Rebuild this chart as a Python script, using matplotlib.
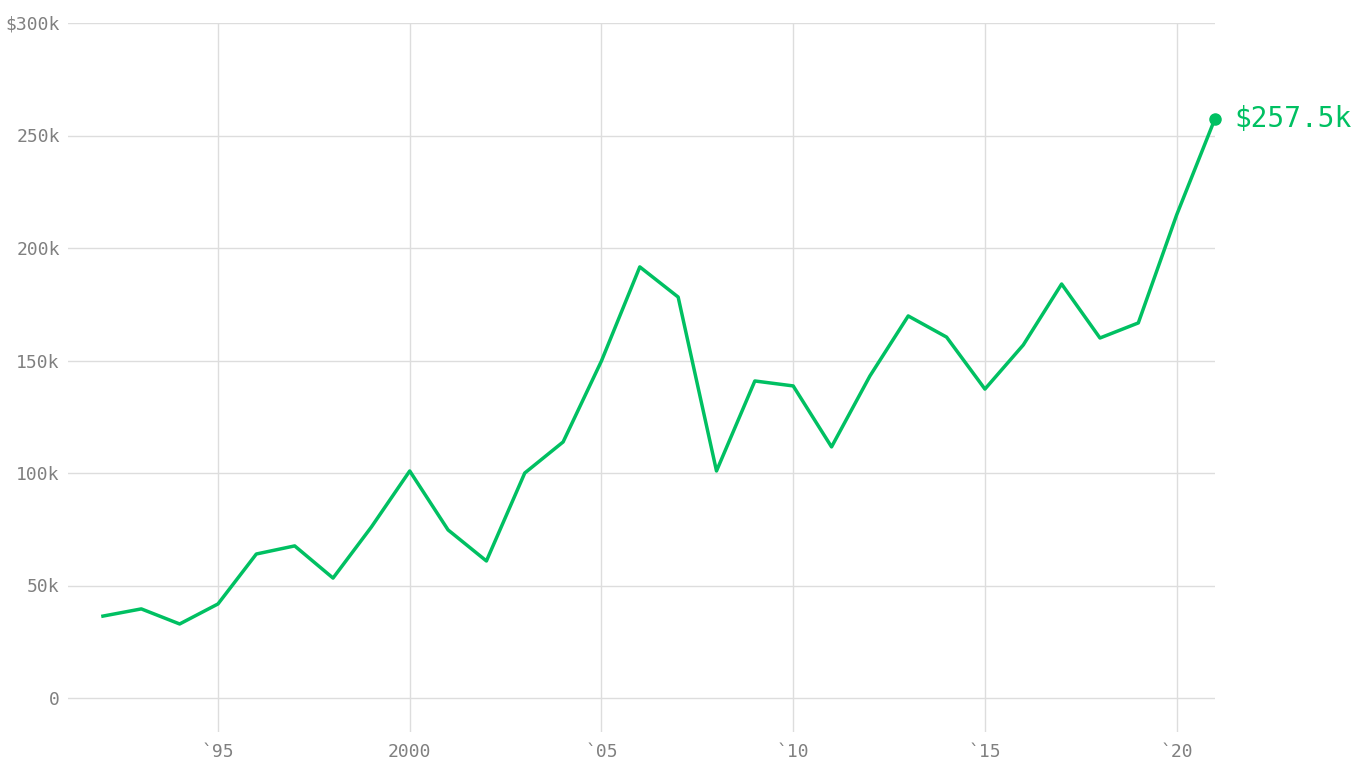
import matplotlib
matplotlib.use("Agg")
import matplotlib.pyplot as plt

years = list(range(1992, 2022))
values = [36.4, 39.6, 32.9, 41.8, 64, 67.6, 53.3, 76, 100.9, 74.7, 60.9, 100, 113.8, 149.8,
          191.6, 178.2, 100.9, 140.9, 138.7, 111.6, 143.1, 169.8, 160.4, 137.3, 156.9, 184,
          160, 166.7, 214.7, 257.5]
xticks = [1995, 2000, 2005, 2010, 2015, 2020]
xlabels = ["`95", "2000", "`05", "`10", "`15", "`20"]
yticks = [0, 50, 100, 150, 200, 250, 300]
ylabels = ["0", "50k", "100k", "150k", "200k", "250k", "$300k"]

green = "#00c062"
gray = "#808080"
W, H = 1366, 768
fig = plt.figure(figsize=(W/100, H/100), dpi=100)
left, right, top = 68, 1215, 23
ymin, ymax = -15, 300
ppk = (698 - 23) / 300
bottom = 698 + (-ymin) * ppk
ax = fig.add_axes([left/W, 1 - bottom/H, (right-left)/W, (bottom-top)/H])
ppy = (410 - 218) / 5
x0 = 1992 - (103 - left) / ppy
ax.set_xlim(x0, 2021)
ax.set_ylim(ymin, ymax)
for s in ax.spines.values():
    s.set_visible(False)
ax.set_xticks(xticks)
ax.set_xticklabels(xlabels)
ax.set_yticks(yticks)
ax.set_yticklabels(ylabels)
ax.tick_params(length=0, colors=gray, labelsize=13, pad=6)
ax.tick_params(axis='x', pad=8)
for t in ax.get_xticklabels() + ax.get_yticklabels():
    t.set_family("DejaVu Sans Mono")
for y in yticks:
    ax.axhline(y, color="#dddddd", lw=1, zorder=0)
for x in xticks:
    ax.axvline(x, color="#dddddd", lw=1, zorder=0)
ax.plot(years, values, color=green, lw=2.5, clip_on=False, zorder=3)
ax.plot([years[-1]], [values[-1]], "o", color=green, ms=8, clip_on=False, zorder=4)
ax.annotate(f"${values[-1]}k", (years[-1], values[-1]), xytext=(14, 0),
            textcoords="offset points", va="center", ha="left", color=green,
            fontsize=20, family="DejaVu Sans Mono", annotation_clip=False)
fig.savefig("out.png", dpi=100)
